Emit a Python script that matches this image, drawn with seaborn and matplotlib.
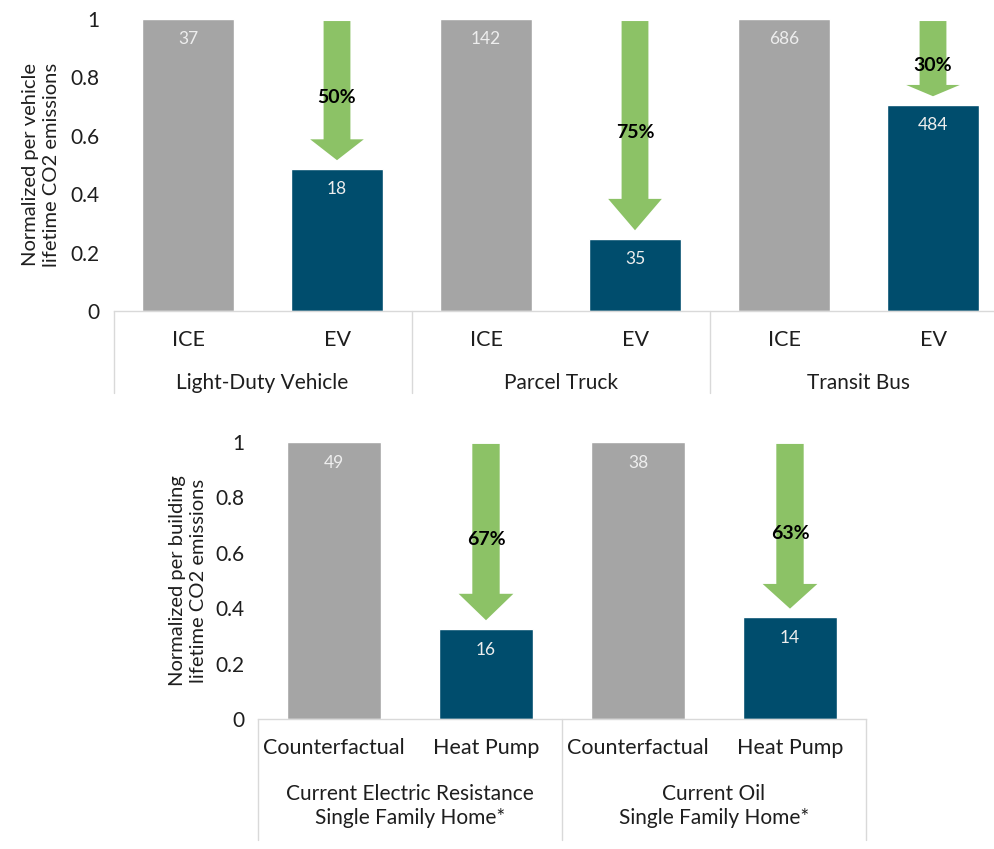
import matplotlib
matplotlib.use("Agg")
import matplotlib.pyplot as plt
from matplotlib.patches import FancyArrow
import seaborn as sns
import pandas as pd

# --- data -------------------------------------------------------------
veh_groups = ["Light-Duty Vehicle", "Parcel Truck", "Transit Bus"]
veh_options = ["ICE", "EV"]
veh_ice = [37, 142, 686]          # lifetime CO2 per vehicle, baseline
veh_ev = [18, 35, 484]            # lifetime CO2 per vehicle, electric
veh_pct = ["50%", "75%", "30%"]   # stated reduction

home_groups = ["Current Electric Resistance\nSingle Family Home*",
               "Current Oil\nSingle Family Home*"]
home_options = ["Counterfactual", "Heat Pump"]
home_base = [49, 38]
home_hp = [16, 14]
home_pct = ["67%", "63%"]

yticks = [0, 0.2, 0.4, 0.6, 0.8, 1]
ytick_labels = ["0", "0.2", "0.4", "0.6", "0.8", "1"]

GRAY = "#a5a5a5"
BLUE = "#004d6d"
GREEN = "#8cc266"
LINE = "#d9d9d9"
TEXT = "#1e1e1e"

sns.set_style("white")
plt.rcParams["font.family"] = ["Lato", "DejaVu Sans"]


def build_frame(groups, options, base, alt):
    rows = []
    for g, b, a in zip(groups, base, alt):
        rows.append({"slot": f"{g}|{options[0]}", "norm": b / b,
                     "raw": b, "kind": "base"})
        rows.append({"slot": f"{g}|{options[1]}", "norm": a / b,
                     "raw": a, "kind": "alt"})
    return pd.DataFrame(rows)


def draw_panel(ax, groups, options, base, alt, pct, ylabel,
               ylabel_x, cat_y, grp_y, sep_y, val_off):
    df = build_frame(groups, options, base, alt)
    sns.barplot(data=df, x="slot", y="norm", hue="kind",
                palette={"base": GRAY, "alt": BLUE}, dodge=False,
                width=0.62, saturation=1, errorbar=None, legend=False,
                order=list(df["slot"]), ax=ax, zorder=2)
    n = len(df)
    ax.set_xlim(-0.5, n - 0.5)
    ax.set_ylim(0, 1)
    ax.set_yticks(yticks)
    ax.set_yticklabels(ytick_labels)
    ax.tick_params(axis="y", length=0, pad=10, labelsize=15, labelcolor=TEXT)
    ax.set_xticks([])
    ax.set_xlabel("")
    for s in ["top", "right", "left"]:
        ax.spines[s].set_visible(False)
    ax.spines["bottom"].set_color(LINE)
    ax.spines["bottom"].set_linewidth(1.0)
    ax.set_ylabel(ylabel, fontsize=14.5, color=TEXT, linespacing=1.25)
    ax.yaxis.set_label_coords(ylabel_x, 0.5)

    tr = ax.get_xaxis_transform()
    # value labels inside bars
    for i, row in df.iterrows():
        ax.annotate(f"{row['raw']}", xy=(i, row["norm"]),
                    xytext=(0, -val_off), textcoords="offset pixels",
                    ha="center", va="center", fontsize=12.5,
                    color="#eeeeee", zorder=4)
    # category and group labels with separators
    for i, row in df.iterrows():
        ax.text(i, cat_y, row["slot"].split("|")[1], transform=tr,
                ha="center", va="center", fontsize=15.5, color=TEXT)
    for k, g in enumerate(groups):
        ax.text(2 * k + 0.5, grp_y, g, transform=tr, ha="center",
                va="center", fontsize=15, color=TEXT, linespacing=1.25)
    for k in range(len(groups) + 1):
        xs = 2 * k - 0.5
        ax.plot([xs, xs], [0, sep_y], transform=tr, color=LINE, lw=1.0,
                clip_on=False, zorder=1)
    # reduction arrows
    for k, p in enumerate(pct):
        x = 2 * k + 1
        h = alt[k] / base[k]
        top = 0.993
        tip = h + 0.03
        length = top - tip
        ax.add_patch(FancyArrow(x, top, 0, -length, width=0.18,
                                head_width=0.36, head_length=0.15 * length,
                                length_includes_head=True, color=GREEN,
                                lw=0, zorder=3))
        ax.text(x, (top + tip) / 2 - 0.025, p, ha="center", va="center",
                fontsize=14, fontweight="bold", color="black", zorder=5)


fig = plt.figure(figsize=(9.94, 8.49), dpi=100)
W, H = 994, 849

ax1 = fig.add_axes([113.5 / W, 1 - 311 / H, 894 / W, 292 / H])
draw_panel(ax1, veh_groups, veh_options, veh_ice, veh_ev, veh_pct,
           "Normalized per vehicle\nlifetime CO2 emissions",
           ylabel_x=-0.060, cat_y=-0.10, grp_y=-0.247, sep_y=-0.28,
           val_off=20)

ax2 = fig.add_axes([258 / W, 1 - 719 / H, 608 / W, 277 / H])
draw_panel(ax2, home_groups, home_options, home_base, home_hp, home_pct,
           "Normalized per building\nlifetime CO2 emissions",
           ylabel_x=-0.084, cat_y=-0.105, grp_y=-0.314, sep_y=-0.437,
           val_off=21)

fig.savefig("out.png", dpi=100)
